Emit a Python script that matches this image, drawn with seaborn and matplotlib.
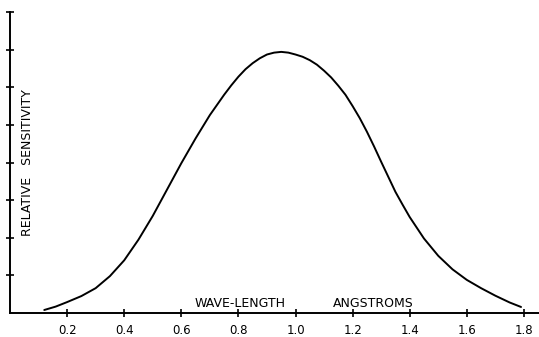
import numpy as np
import pandas as pd
import matplotlib
matplotlib.use('Agg')
import matplotlib.pyplot as plt
import seaborn as sns

# values
wavelength = [0.12, 0.16, 0.20, 0.25, 0.30, 0.35, 0.40, 0.45, 0.50, 0.55, 0.60, 0.65,
              0.70, 0.75, 0.775, 0.80, 0.825, 0.85, 0.875, 0.90, 0.925, 0.95, 0.975,
              1.00, 1.025, 1.05, 1.075, 1.10, 1.125, 1.15, 1.175, 1.20, 1.225, 1.25,
              1.275, 1.30, 1.325, 1.35, 1.375, 1.40, 1.45, 1.50, 1.55, 1.60, 1.65,
              1.70, 1.75, 1.79]
sensitivity = [0.08, 0.17, 0.29, 0.45, 0.66, 0.98, 1.40, 1.95, 2.58, 3.28, 3.98, 4.64,
               5.26, 5.80, 6.05, 6.28, 6.48, 6.64, 6.77, 6.87, 6.92, 6.94, 6.92,
               6.87, 6.81, 6.72, 6.60, 6.44, 6.26, 6.04, 5.80, 5.50, 5.18, 4.82,
               4.43, 4.02, 3.62, 3.22, 2.88, 2.55, 1.98, 1.52, 1.16, 0.88, 0.66,
               0.46, 0.28, 0.16]
xtick_vals = [0.2, 0.4, 0.6, 0.8, 1.0, 1.2, 1.4, 1.6, 1.8]
xtick_labels = ['0.2', '0.4', '0.6', '0.8', '1.0', '1.2', '1.4', '1.6', '1.8']
ytick_vals = [1, 2, 3, 4, 5, 6, 7, 8]

df = pd.DataFrame({'wavelength': wavelength, 'sensitivity': sensitivity})

sns.set_style('ticks')
plt.rcParams['font.family'] = ['DejaVu Sans']
plt.rcParams['text.color'] = 'black'
plt.rcParams['xtick.color'] = 'black'
plt.rcParams['ytick.color'] = 'black'

fig = plt.figure(figsize=(5.39, 3.37), dpi=100)
ax = fig.add_axes([10/539, 24/337, 529/539, 301/337])

sns.lineplot(data=df, x='wavelength', y='sensitivity', ax=ax, color='black', linewidth=1.4)

ax.set_xlim(0, 529/285.5)
ax.set_ylim(0, 8)
sns.despine(ax=ax)
for s in ['left', 'bottom']:
    ax.spines[s].set_linewidth(1.4)
    ax.spines[s].set_color('black')

ax.set_xticks(xtick_vals)
ax.set_xticklabels(xtick_labels)
ax.set_yticks(ytick_vals)
ax.set_yticklabels([])
ax.tick_params(axis='both', direction='inout', length=6, width=1.2, color='black')
ax.tick_params(axis='x', labelsize=8.5, pad=5, labelcolor='black')
ax.set_xlabel('')
ax.set_ylabel('')

ax.text(0.806, 0.08, 'WAVE-LENGTH', fontsize=9, ha='center', va='bottom', color='black')
ax.text(1.271, 0.08, 'ANGSTROMS', fontsize=9, ha='center', va='bottom', color='black')
ax.text(0.06, 4.0, 'RELATIVE   SENSITIVITY', fontsize=9, rotation=90,
        ha='center', va='center', color='black')

fig.savefig('out.png', dpi=100)
